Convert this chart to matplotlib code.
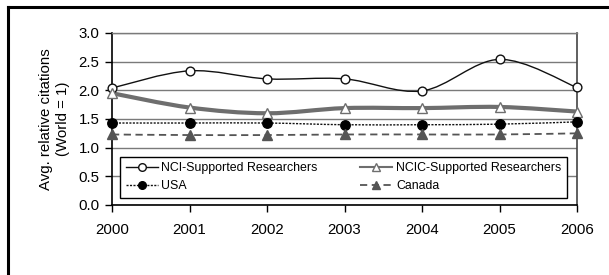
import numpy as np
import matplotlib
matplotlib.use("Agg")
import matplotlib.pyplot as plt
from matplotlib.path import Path
from matplotlib.patches import PathPatch
from matplotlib.lines import Line2D

plt.rcParams['font.family'] = ['Liberation Sans', 'DejaVu Sans']

years = [2000, 2001, 2002, 2003, 2004, 2005, 2006]
nci = [2.04, 2.34, 2.20, 2.20, 1.99, 2.54, 2.05]
ncic = [1.95, 1.70, 1.60, 1.69, 1.69, 1.71, 1.63]
usa = [1.43, 1.43, 1.43, 1.40, 1.40, 1.41, 1.45]
canada = [1.23, 1.22, 1.22, 1.23, 1.23, 1.23, 1.25]
labels = ['NCI-Supported Researchers', 'NCIC-Supported Researchers', 'USA', 'Canada']


def smooth_path(x, y):
    # Excel-style smoothed line: Catmull-Rom segments as cubic Beziers
    x = np.asarray(x, float)
    y = np.asarray(y, float)
    verts = [(x[0], y[0])]
    codes = [Path.MOVETO]
    n = len(x)
    for i in range(n - 1):
        x0, y0 = (x[i - 1], y[i - 1]) if i > 0 else (x[i], y[i])
        x3, y3 = (x[i + 2], y[i + 2]) if i + 2 < n else (x[i + 1], y[i + 1])
        c1 = (x[i] + (x[i + 1] - x0) / 6, y[i] + (y[i + 1] - y0) / 6)
        c2 = (x[i + 1] - (x3 - x[i]) / 6, y[i + 1] - (y3 - y[i]) / 6)
        verts += [c1, c2, (x[i + 1], y[i + 1])]
        codes += [Path.CURVE4] * 3
    return Path(verts, codes)


fig = plt.figure(figsize=(6.09, 2.75), dpi=100)
ax = fig.add_axes([112 / 609, 1 - 205 / 275, 465 / 609, 172 / 275])

ax.set_xlim(2000, 2006)
ax.set_ylim(0, 3.0)
ax.set_yticks(np.arange(0, 3.01, 0.5))
ax.set_yticklabels([f"{v:.1f}" for v in np.arange(0, 3.01, 0.5)])
ax.set_xticks(years)
ax.grid(axis='y', color='#7a7a7a', linewidth=1.0)
ax.set_axisbelow(True)

for s in ['left', 'bottom']:
    ax.spines[s].set_color('black')
    ax.spines[s].set_linewidth(1.2)
ax.spines['right'].set_color('#444444')
ax.spines['right'].set_linewidth(1.2)
ax.spines['top'].set_color('#7a7a7a')
ax.spines['top'].set_linewidth(1.0)
ax.tick_params(axis='both', direction='out', length=5, width=1, labelsize=10.8, colors='black')
ax.tick_params(axis='x', pad=8)
ax.tick_params(axis='y', pad=4)

styles = [
    dict(data=nci, color='#111111', lw=1.0, ls='-', marker='o', mfc='white', mec='#111111', ms=6.3),
    dict(data=ncic, color='#6e6e6e', lw=3.0, ls='-', marker='^', mfc='white', mec='#6e6e6e', ms=6.5),
    dict(data=usa, color='#111111', lw=1.0, ls=(0, (1.5, 1)), marker='o', mfc='black', mec='black', ms=6.8),
    dict(data=canada, color='#555555', lw=1.3, ls=(0, (4, 2.5)), marker='^', mfc='#555555', mec='#555555', ms=6.5),
]

handles = []
for st, lab in zip(styles, labels):
    patch = PathPatch(smooth_path(years, st['data']), facecolor='none', edgecolor=st['color'],
                      linewidth=st['lw'], linestyle=st['ls'], zorder=3)
    ax.add_patch(patch)
    ax.plot(years, st['data'], linestyle='none', marker=st['marker'], mfc=st['mfc'],
            mec=st['mec'], ms=st['ms'], mew=1.0, zorder=4, clip_on=False)
    handles.append(Line2D([], [], color=st['color'], lw=min(st['lw'], 1.5), linestyle=st['ls'],
                          marker=st['marker'], mfc=st['mfc'], mec=st['mec'], ms=5.5, mew=1.0))

# legend fills column-first: reorder so rows read NCI | NCIC, USA | Canada
order = [0, 2, 1, 3]
leg = ax.legend([handles[i] for i in order], [labels[i] for i in order], ncol=2, loc='lower left',
                bbox_to_anchor=(8 / 465, 7 / 172, 447 / 465, 41 / 172), mode='expand',
                fontsize=8.9, frameon=True, fancybox=False, edgecolor='black', framealpha=1,
                handlelength=2.6, handletextpad=0.3, borderpad=0.45, labelspacing=0.5,
                borderaxespad=0, columnspacing=1.0)
leg.get_frame().set_linewidth(1.0)
leg.set_zorder(5)

ax.set_ylabel('Avg. relative citations\n(World = 1)', fontsize=10.8, labelpad=6, linespacing=1.25)

# outer frame (top and left edges visible)
fig.add_artist(Line2D([8 / 609, 1], [1 - 7 / 275, 1 - 7 / 275], color='black', lw=2.2,
                      transform=fig.transFigure))
fig.add_artist(Line2D([8 / 609, 8 / 609], [0, 1 - 7 / 275], color='black', lw=2.2,
                      transform=fig.transFigure))

fig.savefig('out.png', dpi=100)
